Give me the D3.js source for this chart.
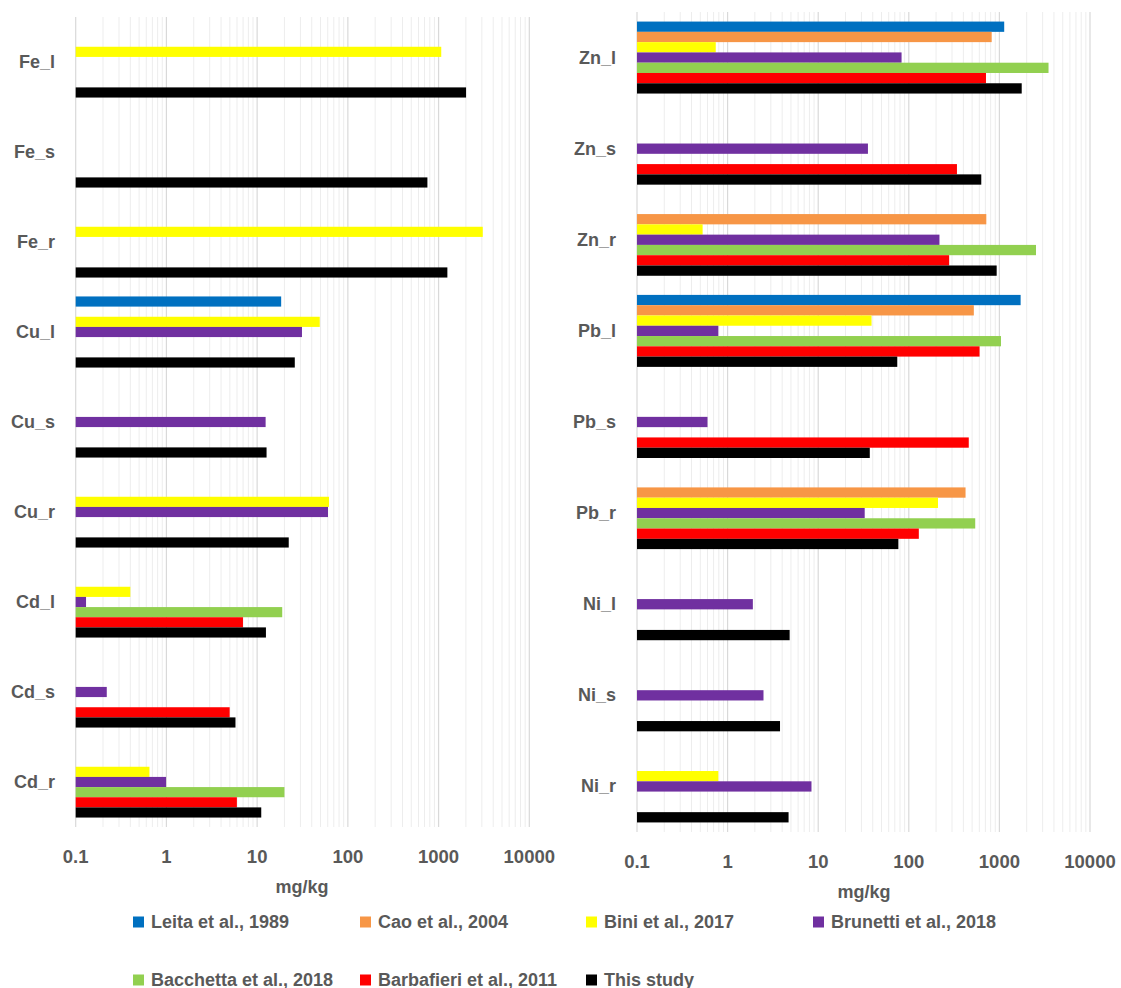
<!DOCTYPE html>
<html lang="en">

<head>
	<meta charset="UTF-8">
	<script src="https://cdn.jsdelivr.net/npm/d3@7"></script>
	<title>Metals</title>
</head>

<style>
body {
	margin: 0;
	background: #fff;
}
text {
	font-family: "Liberation Sans", Arial, sans-serif;
	font-weight: bold;
	fill: #595959;
}
</style>

<body>
	<svg id="chart" width="1121" height="988"></svg>
</body>

<script>
	let categories = ['Fe_l', 'Fe_s', 'Fe_r', 'Cu_l', 'Cu_s', 'Cu_r', 'Cd_l', 'Cd_s', 'Cd_r',
		'Zn_l', 'Zn_s', 'Zn_r', 'Pb_l', 'Pb_s', 'Pb_r', 'Ni_l', 'Ni_s', 'Ni_r']

	let seriesNames = ['Leita et al., 1989', 'Cao et al., 2004', 'Bini et al., 2017', 'Brunetti et al., 2018',
		'Bacchetta et al., 2018', 'Barbafieri et al., 2011', 'This study']
	let colors = ['#0070C0', '#F79646', '#FFFF00', '#7030A0', '#92D050', '#FF0000', '#000000']

	let leita = [null, null, null, 18.4, null, null, null, null, null,
		1130, null, null, 1715, null, null, null, null, null]
	let cao = [null, null, null, null, null, null, null, null, null,
		822, null, 717, 522, null, 423, null, null, null]
	let bini = [1070, null, 3070, 49, null, 62, 0.40, null, 0.65,
		0.74, null, 0.53, 38.8, null, 210, null, null, 0.79]
	let brunetti = [null, null, null, 31.2, 12.4, 60.4, 0.13, 0.22, 0.99,
		83.2, 35.4, 218, 0.79, 0.60, 32.6, 1.90, 2.49, 8.43]
	let bacchetta = [null, null, null, null, null, null, 18.9, null, 20,
		3485, null, 2535, 1041, null, 541, null, null, null]
	let barbafieri = [null, null, null, null, null, null, 6.98, 4.98, 5.98,
		711, 340, 279, 604, 459, 129, null, null, null]
	let thisStudy = [2009, 753, 1250, 26, 12.7, 22.3, 12.5, 5.77, 11.1,
		1763, 631, 933, 74.6, 37.1, 76.7, 4.84, 3.79, 4.71]

	let tickValues = [0.1, 1, 10, 100, 1000, 10000]

	let series = [leita, cao, bini, brunetti, bacchetta, barbafieri, thisStudy]

	let svg = d3.select('#chart')

	// two panels side by side
	let panels = [
		{ cats: categories.slice(0, 9), offset: 0, x0: 75.7, x1: 529.3, top: 17, bottom: 827, labelX: 55, tickY: 856, unitX: 302, unitY: 887 },
		{ cats: categories.slice(9), offset: 9, x0: 637, x1: 1090, top: 12, bottom: 832, labelX: 616, tickY: 861, unitX: 864, unitY: 892 },
	]

	let minor = []
	for (let k = -1; k < 4; k++) {
		for (let m = 2; m <= 9; m++) minor.push(m * Math.pow(10, k))
	}

	panels.forEach(p => {
		let x = d3.scaleLog().domain([0.1, 10000]).range([p.x0, p.x1])
		let y = d3.scaleBand().domain(p.cats).range([p.top, p.bottom])
		let ys = d3.scaleBand().domain(d3.range(7)).range([0, y.bandwidth()]).paddingOuter(0.93)

		let g = svg.append('g')

		g.selectAll('.minor').data(minor).enter().append('line')
			.attr('x1', d => x(d)).attr('x2', d => x(d))
			.attr('y1', p.top).attr('y2', p.bottom)
			.attr('stroke', '#ededed').attr('stroke-width', 1)

		g.selectAll('.major').data(tickValues).enter().append('line')
			.attr('x1', d => x(d)).attr('x2', d => x(d))
			.attr('y1', p.top).attr('y2', p.bottom)
			.attr('stroke', '#d9d9d9').attr('stroke-width', 1.2)

		series.forEach((vals, si) => {
			let rows = p.cats.map((c, i) => ({ c: c, v: vals[p.offset + i] })).filter(d => d.v != null)
			g.selectAll('.s' + si).data(rows).enter().append('rect')
				.attr('x', x(0.1))
				.attr('y', d => y(d.c) + ys(si))
				.attr('width', d => x(d.v) - x(0.1))
				.attr('height', ys.bandwidth())
				.attr('fill', colors[si])
		})

		g.selectAll('.cat').data(p.cats).enter().append('text')
			.attr('x', p.labelX)
			.attr('y', d => y(d) + y.bandwidth() / 2)
			.attr('text-anchor', 'end')
			.attr('dominant-baseline', 'central')
			.style('font-size', '18px')
			.text(d => d)

		g.selectAll('.tick').data(tickValues).enter().append('text')
			.attr('x', d => x(d))
			.attr('y', p.tickY)
			.attr('text-anchor', 'middle')
			.attr('dominant-baseline', 'central')
			.style('font-size', '18.5px')
			.text(d => d3.format('~g')(d))

		g.append('text')
			.attr('x', p.unitX).attr('y', p.unitY)
			.attr('text-anchor', 'middle')
			.attr('dominant-baseline', 'central')
			.style('font-size', '18px')
			.text('mg/kg')
	})

	// legend
	let legX = [133, 360, 586, 813]
	let legY = [922, 980]
	let leg = svg.append('g').selectAll('g').data(seriesNames).enter().append('g')
		.attr('transform', (d, i) => `translate(${legX[i % 4]},${legY[Math.floor(i / 4)]})`)
	leg.append('rect')
		.attr('x', 0).attr('y', -5.5)
		.attr('width', 11).attr('height', 11)
		.attr('fill', (d, i) => colors[i])
	leg.append('text')
		.attr('x', 18).attr('y', 0)
		.attr('dominant-baseline', 'central')
		.style('font-size', '18px')
		.text(d => d)
</script>

</html>
